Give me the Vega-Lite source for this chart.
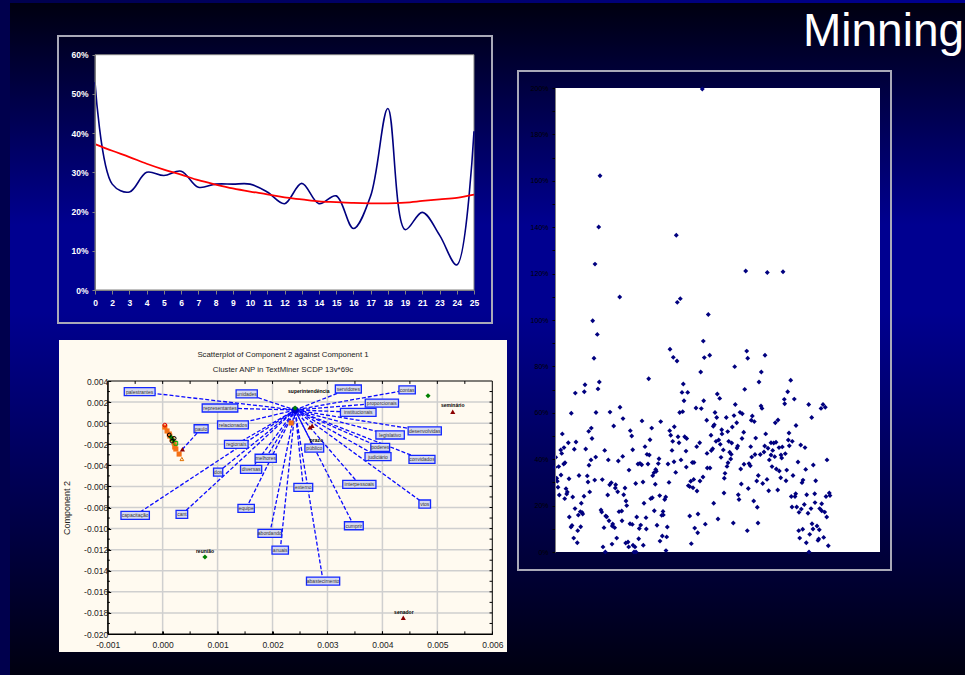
{"$schema":"https://vega.github.io/schema/vega-lite/v6.json","width":965,"height":675,"padding":0,"autosize":{"type":"fit","contains":"padding"},"background":"#00004d","config":{"view":{"stroke":null},"font":"Liberation Sans"},
"datasets":{"unit":[{"x0":0,"x1":1,"y0":0,"y1":1}],
"line":[{"cat":"0","blue":53,"red":37.2},{"cat":"2","blue":27,"red":35.5},{"cat":"3","blue":25,"red":33.9},{"cat":"4","blue":30,"red":32.2},{"cat":"5","blue":29.2,"red":30.7},{"cat":"6","blue":30.3,"red":29.4},{"cat":"7","blue":26.2,"red":28},{"cat":"8","blue":27,"red":26.9},{"cat":"9","blue":27,"red":25.9},{"cat":"10","blue":27,"red":25.1},{"cat":"11","blue":25,"red":24.4},{"cat":"12","blue":22,"red":23.6},{"cat":"13","blue":27.2,"red":23.1},{"cat":"14","blue":22,"red":22.6},{"cat":"15","blue":24,"red":22.4},{"cat":"16","blue":15.7,"red":22.2},{"cat":"17","blue":24,"red":22.1},{"cat":"18","blue":46.3,"red":22.1},{"cat":"19","blue":15.4,"red":22.3},{"cat":"21","blue":19.8,"red":22.7},{"cat":"23","blue":14,"red":23.1},{"cat":"24","blue":6.4,"red":23.5},{"cat":"25","blue":40.5,"red":24.3}],
"cloud":[[37.7,99.7],[42.3,93.8],[39,83.5],[44.3,73.3],[43,70.3],[30,72.1],[29.3,69.1],[20.3,68.5],[16.3,59.8],[41,60.1],[55,60.3],[65,62.4],[68,57.5],[58.7,54.3],[36.3,53.4],[33.7,52],[7.3,50.9],[37,48.9],[13.3,47.1],[21,47.4],[9,45],[5.7,44],[6.7,42.5],[19.3,44.3],[30.7,44.4],[49.7,43.8],[40.7,40.9],[36,39.7],[34,37.4],[53.3,39.7],[67.7,41.2],[63.3,39.2],[0.7,40.8],[10,38.5],[8.7,37.9],[3.7,36.8],[0,36.5],[6,33.2],[1.7,31.8],[2.3,30.5],[14,31.6],[24,33],[32.3,32.8],[33,30.2],[39.7,31],[47.3,31.2],[3,27.9],[11,27.3],[12.3,25.9],[4.3,24.6],[11.7,25],[9.7,23],[17.7,23.7],[29,24],[34.7,25.9],[26.3,21],[20,18.7],[52.7,24.6],[54.7,29],[56.3,29.9],[60.7,29],[60.3,27.6],[62.7,26],[70,27.6],[68.7,24.7],[71,22],[71.7,20],[74,35.3],[77.7,44.1],[75.3,52.3],[76.7,50],[87,56.5],[96.7,53.4],[95,48.4],[90,45.4],[92,42.1],[94.3,41.8],[104,40.2],[103.3,38.1],[83,37.9],[85,38.2],[86.7,37.6],[93,37.9],[80.7,29.5],[88,30.2],[100.7,35.6],[101.3,34.8],[99,34.2],[97.7,32.9],[100.3,29.2],[97.3,23.4],[95.7,23],[89,21],[104.7,24.3],[110.7,23.7],[109.7,22.6],[99.3,17.8],[108,17.5],[108.3,16],[106.7,15.8],[91,14.8],[81.7,15.1],[64,17.4],[66.7,17.7],[46,18.1],[46.7,17.2],[50.7,15.5],[51.7,15.2],[54,13.5],[57.7,12.1],[57.3,11.2],[59.7,10.5],[67,13.5],[75,12.2],[77.3,11.9],[85.7,11.6],[84.3,10.1],[91.3,9.9],[102,11.5],[112.3,10.8],[49,10.5],[25.7,10.9],[17,11.4],[16,10.8],[22.7,9.2],[14.3,15.1],[23.3,15.9],[25.3,17.4],[27,17.1],[27.7,16.4],[18.7,6],[22.3,4],[48,2.2],[50.3,0],[57,3.4],[61.7,6],[70.7,3.9],[73,4.3],[73.7,2.2],[78,2.9],[80,2.2],[83.7,5.7],[88.3,2.9],[79,0],[81,0],[105,4.7],[107.3,6.9],[111.7,6.5],[111,0.6],[136.3,3.6],[93.7,74.7],[115,87.4],[118.3,83.9],[122,82.3],[128.3,72.4],[127,68.8],[132.7,68.8],[129,65.2],[124.7,60.1],[127.7,60.5],[105.7,56.2],[119.3,54],[114.7,52.3],[115.7,50.3],[117.7,47.7],[123,49.7],[124,47.1],[129.7,49.7],[131.7,48.9],[117,43.8],[131,43.5],[126,39.7],[119,38.9],[113,37.9],[120.7,34.3],[131.3,36.6],[137.3,38.6],[139,38.6],[114,30],[133.3,28.6],[135.7,30.5],[138.7,31.3],[134.7,28.2],[138,27.7],[142,26.3],[145,30.6],[148,32.3],[141.7,45.4],[144.7,47.1],[141,62.1],[146.3,61.8],[148.7,65.2],[145.7,77.6],[149.3,83.8],[148.3,90.9],[134.7,15.5],[143,16.4],[139.7,10.3],[142.7,8.3],[150.3,12],[154.7,84.8],[191.7,86.6],[192.7,83.5],[210,84.8],[179.7,79.9],[206.3,77.6],[204,73.3],[235.7,74],[189.7,70.1],[232.7,69.1],[162.3,68.1],[164.7,66.2],[229.3,65.8],[239.3,65.9],[229.7,63.9],[253.7,63.6],[268,63.6],[270.3,62.4],[266,61.9],[180.3,63.6],[206,62.9],[207,61.9],[160,60.1],[161.7,58],[171.3,58],[179,58.8],[185,60.2],[187.3,59.6],[197.3,58.6],[196.3,56.8],[199.3,56.2],[256.7,58],[151.7,56.8],[223,56.9],[220.3,55.7],[241,54.5],[181.7,55.7],[177.3,53.9],[159.3,54.9],[158.3,54.2],[166.7,52.7],[167,50.9],[172.7,51.9],[188.7,51.6],[156,50.3],[210.7,50.9],[234,51.3],[187,48.9],[200.7,49.1],[233.3,48.3],[237.3,47.7],[161,47.7],[163.7,48.3],[165.3,46.4],[173.7,47.7],[176.7,47],[216,47.1],[218.7,47],[221,47.3],[245.7,46.1],[250,45],[234.3,45.8],[157.7,44.5],[156.3,43.7],[152,42.5],[168.3,44],[182.7,45.7],[182,44.8],[195.7,45.4],[209.7,45.7],[213,44.7],[217.7,43.8],[224,45],[227.3,45.3],[209,43.1],[205.3,42],[200,42],[196.7,40.9],[216,41.8],[219.7,41.1],[226,41.8],[226.7,40.5],[230.3,42.4],[214.3,39.7],[166,40.8],[174.7,43],[176.3,42.1],[175.7,40.1],[173,38.5],[172,36.9],[189,37.8],[194,38.1],[195.3,37.2],[185.7,35.8],[217,36.8],[221.3,35.8],[224.3,34.9],[231.7,35.3],[243,38.8],[250.7,35.6],[258.3,37.5],[272,39.7],[152.3,36.2],[155,36.2],[170,33.9],[169.3,31.8],[203.3,33],[225.7,32],[238,33],[201.7,30.6],[212,31.3],[207.7,29.5],[231,30.7],[248,31],[247,29.9],[260.7,30.7],[186.3,29.3],[193.3,27.4],[213.7,26.4],[222.7,26.7],[169,25.4],[183.3,24.7],[184,22.6],[198.7,22],[202.3,19.3],[158.7,21],[240.7,25.1],[236.3,23.9],[240,23.9],[251.7,24.7],[259.7,25.1],[274.3,25.4],[271,23.9],[275,24.3],[260,21.3],[249.3,20.5],[266.7,20.8],[237,19.4],[241.7,19.4],[246.3,18.5],[244,17.1],[256,18.7],[253,16.7],[264.7,18.7],[266.7,17.8],[269.7,17.2],[271.7,15.1],[163,14.2],[178.3,12.5],[203,12.5],[192.3,9.2],[257,12.2],[262,11.2],[258,9.9],[264.3,9.6],[243.7,9.2],[247.7,9.8],[254.7,7.6],[244.7,6],[268.7,6.3],[263.7,5.6],[263,5],[251.3,4],[273.3,2.7],[254,0],[147.3,199.6],[45,162.2],[43.7,140.1],[121.3,136.5],[40,124.1],[64.7,109.9],[125.3,109.2],[122.3,107.6],[190.7,121.1],[212.3,120.5],[228,120.8],[153.3,102.4]],
"boxes":[{"label":"palestrantes","x":-0.000418,"y":0.002985},{"label":"unidades","x":0.00153,"y":0.00277},{"label":"representantes","x":0.001044,"y":0.00144},{"label":"relacionados","x":0.00128,"y":-0.00017},{"label":"paulo","x":0.0007,"y":-0.00053},{"label":"regionais","x":0.00134,"y":-0.00201},{"label":"melhores","x":0.001876,"y":-0.00333},{"label":"diversas","x":0.00161,"y":-0.00438},{"label":"dos","x":0.00101,"y":-0.00464},{"label":"servidores","x":0.00338,"y":0.00324},{"label":"contas","x":0.00445,"y":0.00315},{"label":"proporcionais","x":0.00399,"y":0.00191},{"label":"institucionais","x":0.00356,"y":0.00103},{"label":"desenvolvidas","x":0.00477,"y":-0.00074},{"label":"legislativo","x":0.00414,"y":-0.00112},{"label":"poderes","x":0.00396,"y":-0.00229},{"label":"judiciário","x":0.00392,"y":-0.00318},{"label":"convidados","x":0.00472,"y":-0.00343},{"label":"público","x":0.00276,"y":-0.00236},{"label":"externo","x":0.00256,"y":-0.00609},{"label":"interpessoais","x":0.00358,"y":-0.0058},{"label":"vtos","x":0.00477,"y":-0.00767},{"label":"cumprir","x":0.00348,"y":-0.00973},{"label":"abastecimento","x":0.00292,"y":-0.01498},{"label":"capacitação","x":-0.0005,"y":-0.00874},{"label":"cant","x":0.00035,"y":-0.00865},{"label":"equipe","x":0.00152,"y":-0.00808},{"label":"abordando","x":0.00195,"y":-0.01045},{"label":"anuais","x":0.00214,"y":-0.01204}],
"filled":[{"x":0.00004,"y":-0.00037,"kind":"orange"},{"x":0.00008,"y":-0.00074,"kind":"orange"},{"x":0.00012,"y":-0.00103,"kind":"orange"},{"x":0.00013,"y":-0.00122,"kind":"orange"},{"x":0.00017,"y":-0.0015,"kind":"orange"},{"x":0.00021,"y":-0.00188,"kind":"orange"},{"x":0.00022,"y":-0.00226,"kind":"orange"},{"x":0.00024,"y":-0.00245,"kind":"orange"},{"x":0.0003,"y":-0.00293,"kind":"orange"},{"x":0.00234,"y":0.00002,"kind":"orange"},{"x":0.00036,"y":-0.00247,"kind":"darkred"},{"x":0.00268,"y":-0.0004,"kind":"darkred"},{"x":0.00272,"y":-0.00025,"kind":"darkred"},{"x":0.00528,"y":0.00109,"kind":"darkred"},{"x":0.00438,"y":-0.01846,"kind":"darkred"},{"x":0.00019,"y":-0.0016,"kind":"green"},{"x":0.00015,"y":-0.00131,"kind":"green"},{"x":0.00483,"y":0.0026,"kind":"green"},{"x":0.00077,"y":-0.0127,"kind":"green"},{"x":0.00241,"y":0.00125,"kind":"blue"},{"x":0.00241,"y":0.00143,"kind":"green"}],
"hollow":[{"x":0.00035,"y":-0.0034,"kind":"horange"},{"x":0.00024,"y":-0.00191,"kind":"hgreen"},{"x":0.00012,"y":-0.00112,"kind":"black"},{"x":0.00021,"y":-0.00144,"kind":"black"},{"x":0.00017,"y":-0.0017,"kind":"black"},{"x":0.00004,"y":-0.00018,"kind":"red"}],
"names":[{"name":"superintendência","x":0.00266,"y":0.00305},{"name":"seminário","x":0.00528,"y":0.00172},{"name":"reunião","x":0.00077,"y":-0.01213},{"name":"senador","x":0.00439,"y":-0.01792},{"name":"prazo","x":0.0028,"y":-0.0016}],
"gridx":[{"x":0},{"x":0.001},{"x":0.002},{"x":0.003},{"x":0.004},{"x":0.005}],
"gridy":[{"y":-0.018},{"y":-0.016},{"y":-0.014},{"y":-0.012},{"y":-0.01},{"y":-0.008},{"y":-0.006},{"y":-0.004},{"y":-0.002},{"y":0},{"y":0.002}],
"tickx":[{"x":-0.0005},{"x":0},{"x":0.0005},{"x":0.001},{"x":0.0015},{"x":0.002},{"x":0.0025},{"x":0.003},{"x":0.0035},{"x":0.004},{"x":0.0045},{"x":0.005},{"x":0.0055}],
"ticky":[{"y":-0.019},{"y":-0.018},{"y":-0.017},{"y":-0.016},{"y":-0.015},{"y":-0.014},{"y":-0.013},{"y":-0.012},{"y":-0.011},{"y":-0.01},{"y":-0.009},{"y":-0.008},{"y":-0.007},{"y":-0.006},{"y":-0.005},{"y":-0.004},{"y":-0.003},{"y":-0.002},{"y":-0.001},{"y":0},{"y":0.001},{"y":0.002},{"y":0.003}]
},
"resolve":{"scale":{"x":"independent","y":"independent"},"axis":{"x":"independent","y":"independent"}},
"layer":[
{"data":{"name":"unit"},"mark":{"type":"rect","fill":{"gradient":"linear","x1":0,"y1":0,"x2":0,"y2":1,"stops":[{"offset":0,"color":"#000010"},{"offset":0.33,"color":"#000090"},{"offset":0.46,"color":"#000090"},{"offset":1,"color":"#000010"}]}},"encoding":{"x":{"field":"x0","type":"quantitative","axis":null,"scale":{"domain":[0,1],"range":[10,965]}},"x2":{"field":"x1"},"y":{"field":"y0","type":"quantitative","axis":null,"scale":{"domain":[0,1],"range":[3,675]}},"y2":{"field":"y1"}}},
{"data":{"name":"unit"},"mark":{"type":"rect","fill":{"gradient":"linear","x1":0,"y1":0,"x2":1,"y2":0,"stops":[{"offset":0,"color":"#00004d"},{"offset":1,"color":"#000090"}]}},"encoding":{"x":{"field":"x0","type":"quantitative","axis":null,"scale":{"domain":[0,1],"range":[0,965]}},"x2":{"field":"x1"},"y":{"field":"y0","type":"quantitative","axis":null,"scale":{"domain":[0,1],"range":[0,3]}},"y2":{"field":"y1"}}},
{"data":{"values":[{"t":"Minning","x":0,"y":0}]},"mark":{"type":"text","align":"left","baseline":"alphabetic","fontSize":46,"color":"#ffffff"},"encoding":{"text":{"field":"t"},"x":{"field":"x","type":"quantitative","axis":null,"scale":{"domain":[0,1],"range":[803,965]}},"y":{"field":"y","type":"quantitative","axis":null,"scale":{"domain":[0,1],"range":[46,100]}}}},
{"data":{"name":"unit"},"mark":{"type":"rect","fillOpacity":0,"stroke":"#a9a9b8","strokeWidth":2},"encoding":{"x":{"field":"x0","type":"quantitative","axis":null,"scale":{"domain":[0,1],"range":[58,492]}},"x2":{"field":"x1"},"y":{"field":"y0","type":"quantitative","axis":null,"scale":{"domain":[0,1],"range":[36,323]}},"y2":{"field":"y1"}}},
{"data":{"name":"unit"},"mark":{"type":"rect","fillOpacity":0,"stroke":"#a9a9b8","strokeWidth":2},"encoding":{"x":{"field":"x0","type":"quantitative","axis":null,"scale":{"domain":[0,1],"range":[518,891]}},"x2":{"field":"x1"},"y":{"field":"y0","type":"quantitative","axis":null,"scale":{"domain":[0,1],"range":[71,570]}},"y2":{"field":"y1"}}},
{"data":{"name":"unit"},"mark":{"type":"rect","fill":"#ffffff","stroke":"#808080","strokeWidth":1},"encoding":{"x":{"field":"x0","type":"quantitative","axis":null,"scale":{"domain":[0,1],"range":[95,474]}},"x2":{"field":"x1"},"y":{"field":"y0","type":"quantitative","axis":null,"scale":{"domain":[0,1],"range":[54.7,290]}},"y2":{"field":"y1"}}},
{"data":{"name":"unit"},"mark":{"type":"rect","fill":"#ffffff"},"encoding":{"x":{"field":"x0","type":"quantitative","axis":null,"scale":{"domain":[0,1],"range":[555,880]}},"x2":{"field":"x1"},"y":{"field":"y0","type":"quantitative","axis":null,"scale":{"domain":[0,1],"range":[88,552]}},"y2":{"field":"y1"}}},
{"data":{"name":"unit"},"mark":{"type":"rect","fill":"#fffaf0"},"encoding":{"x":{"field":"x0","type":"quantitative","axis":null,"scale":{"domain":[0,1],"range":[59,507]}},"x2":{"field":"x1"},"y":{"field":"y0","type":"quantitative","axis":null,"scale":{"domain":[0,1],"range":[340,652]}},"y2":{"field":"y1"}}},
{"data":{"values":[{"t":"Scatterplot of Component 2 against Component 1","x":0.5,"y":0.048},{"t":"Cluster ANP in TextMiner SCDP 13v*69c","x":0.5,"y":0.096}]},"mark":{"type":"text","fontSize":7.8,"color":"#222222"},"encoding":{"text":{"field":"t"},"x":{"field":"x","type":"quantitative","axis":null,"scale":{"domain":[0,1],"range":[59,507]}},"y":{"field":"y","type":"quantitative","axis":null,"scale":{"domain":[0,1],"range":[340,652]}}}},
{"data":{"name":"line"},"encoding":{"x":{"field":"cat","type":"ordinal","sort":null,"scale":{"type":"point","domain":["0","2","3","4","5","6","7","8","9","10","11","12","13","14","15","16","17","18","19","21","23","24","25"],"range":[95,474],"padding":0},"axis":{"orient":"bottom","offset":-385,"title":null,"labelAngle":0,"labelColor":"#ffffff","labelFontWeight":"bold","labelFontSize":8.5,"labelPadding":4,"tickSize":4,"tickColor":"#808080","domainColor":"#808080","zindex":1,"labelOverlap":false}},"y":{"field":"blue","type":"quantitative","scale":{"domain":[0,60],"range":[290,54.7]},"axis":{"orient":"left","offset":-95,"title":null,"values":[0,10,20,30,40,50,60],"labelExpr":"datum.value + '%'","labelColor":"#ffffff","labelFontWeight":"bold","labelFontSize":8.5,"labelPadding":4,"tickSize":3,"tickColor":"#808080","domainColor":"#808080","grid":false,"zindex":1}}},"layer":[{"mark":{"type":"line","interpolate":"catmull-rom","color":"#00007f","strokeWidth":1.6}},{"mark":{"type":"line","interpolate":"catmull-rom","color":"#ff0000","strokeWidth":1.8},"encoding":{"y":{"field":"red","type":"quantitative"}}}]},
{"data":{"values":[{"a":0}]},"mark":{"type":"point","opacity":0},"encoding":{"y":{"field":"a","type":"quantitative","scale":{"domain":[0,200],"range":[552,88]},"axis":{"orient":"left","offset":-555,"title":null,"values":[0,10,20,30,40,50,60,70,80,90,100,110,120,130,140,150,160,170,180,190,200],"labelExpr":"datum.value % 20 == 0 ? datum.value + '%' : ''","labelColor":"#000000","labelFontSize":7,"labelPadding":4,"tickSize":3,"tickColor":"#000000","domainColor":"#808080","grid":false,"zindex":1}},"x":{"field":"a","type":"quantitative","axis":null,"scale":{"domain":[0,325],"range":[555,880]}}}},
{"data":{"name":"cloud"},"transform":[{"calculate":"datum[0]","as":"obs"},{"calculate":"datum[1]","as":"pct"}],"mark":{"type":"point","shape":"diamond","filled":true,"color":"#00007f","size":24,"opacity":1},"encoding":{"x":{"field":"obs","type":"quantitative","axis":null,"scale":{"domain":[0,325],"range":[555,880]}},"y":{"field":"pct","type":"quantitative","axis":null,"scale":{"domain":[0,200],"range":[552,88]}}}},
{"encoding":{"x":{"field":"x","type":"quantitative","scale":{"domain":[-0.001,0.006],"range":[107.7,492.3]},"axis":{"orient":"bottom","offset":-41,"title":null,"values":[-0.001,0,0.001,0.002,0.003,0.004,0.005,0.006],"labelExpr":"replace(format(datum.value,'.3f'),'−','-')","labelFlush":false,"labelColor":"#222222","labelFontSize":8.5,"labelPadding":9,"tickSize":-3,"tickColor":"#000000","domainColor":"#000000","grid":false,"zindex":1}},"y":{"field":"y","type":"quantitative","scale":{"domain":[-0.02,0.004],"range":[634,381]},"axis":{"orient":"left","offset":-107.7,"title":"Component 2","titleFontSize":9,"titleFontWeight":"normal","titleColor":"#222222","titlePadding":12,"values":[-0.02,-0.018,-0.016,-0.014,-0.012,-0.01,-0.008,-0.006,-0.004,-0.002,0,0.002,0.004],"labelExpr":"replace(format(datum.value,'.3f'),'−','-')","labelColor":"#222222","labelFontSize":8.5,"labelPadding":3,"tickSize":-3,"tickColor":"#000000","domainColor":"#000000","grid":false,"zindex":1}}},
"layer":[
{"data":{"name":"gridx"},"transform":[{"calculate":"-0.02","as":"y"},{"calculate":"0.004","as":"y1"}],"mark":{"type":"rule","color":"#cfcfcf","strokeWidth":1.5},"encoding":{"y2":{"field":"y1"}}},
{"data":{"name":"gridy"},"transform":[{"calculate":"-0.001","as":"x"},{"calculate":"0.006","as":"x1"}],"mark":{"type":"rule","color":"#cfcfcf","strokeWidth":1.5},"encoding":{"x2":{"field":"x1"}}},
{"data":{"values":[{"x":-0.001,"y":-0.02,"x1":0.006,"y1":0.004}]},"mark":{"type":"rect","fillOpacity":0,"stroke":"#000000","strokeWidth":1},"encoding":{"x2":{"field":"x1"},"y2":{"field":"y1"}}},
{"data":{"name":"ticky"},"transform":[{"calculate":"0.006","as":"x"},{"calculate":"0.00595","as":"x1"}],"mark":{"type":"rule","color":"#000000","strokeWidth":1},"encoding":{"x2":{"field":"x1"}}},
{"data":{"name":"ticky"},"transform":[{"calculate":"-0.001","as":"x"},{"calculate":"-0.00096","as":"x1"}],"mark":{"type":"rule","color":"#000000","strokeWidth":1},"encoding":{"x2":{"field":"x1"}}},
{"data":{"name":"tickx"},"transform":[{"calculate":"0.004","as":"y"},{"calculate":"0.00372","as":"y1"}],"mark":{"type":"rule","color":"#000000","strokeWidth":1},"encoding":{"y2":{"field":"y1"}}},
{"data":{"name":"tickx"},"transform":[{"calculate":"-0.02","as":"y"},{"calculate":"-0.01975","as":"y1"}],"mark":{"type":"rule","color":"#000000","strokeWidth":1},"encoding":{"y2":{"field":"y1"}}},
{"data":{"name":"boxes"},"transform":[{"calculate":"datum.label === 'paulo' ? 0.00036 : 0.00241","as":"hx"},{"calculate":"datum.label === 'paulo' ? -0.00247 : 0.00125","as":"hy"}],"mark":{"type":"rule","color":"#0a0aff","strokeWidth":1.3,"strokeDash":[4,2]},"encoding":{"x2":{"field":"hx"},"y2":{"field":"hy"}}},
{"data":{"name":"filled"},"mark":{"type":"point","filled":true,"opacity":1},"encoding":{"shape":{"field":"kind","legend":null,"scale":{"domain":["orange","darkred","green","blue","horange","hgreen","black","red"],"range":["square","triangle-up","diamond","circle","triangle-up","square","circle","circle"]}},"color":{"field":"kind","legend":null,"scale":{"domain":["orange","darkred","green","blue","horange","hgreen","black","red"],"range":["#f57015","#8b0000","#008000","#0000cc","#e07000","#00b000","#000000","#e00000"]}},"size":{"condition":{"test":"datum.kind === 'blue'","value":50},"value":26}}},
{"data":{"name":"hollow"},"mark":{"type":"point","filled":false,"opacity":1,"strokeWidth":1},"encoding":{"shape":{"field":"kind","legend":null},"color":{"field":"kind","legend":null},"size":{"value":14}}},
{"data":{"name":"boxes"},"transform":[{"calculate":"datum.x - (2.4 * length(datum.label) + 2) / 2 * 0.0000182","as":"x0"},{"calculate":"datum.x + (2.4 * length(datum.label) + 2) / 2 * 0.0000182","as":"x1"},{"calculate":"datum.y - 0.00038","as":"y0"},{"calculate":"datum.y + 0.00038","as":"y1"}],"mark":{"type":"rect","fill":"#d6d9ee","stroke":"#1428ff","strokeWidth":1.3},"encoding":{"x":{"field":"x0","type":"quantitative"},"x2":{"field":"x1"},"y":{"field":"y0","type":"quantitative"},"y2":{"field":"y1"}}},
{"data":{"name":"boxes"},"mark":{"type":"text","fontSize":5,"color":"#333333"},"encoding":{"text":{"field":"label"}}},
{"data":{"name":"names"},"mark":{"type":"text","fontSize":5,"fontWeight":"bold","color":"#000000"},"encoding":{"text":{"field":"name"}}}
]}
]}
